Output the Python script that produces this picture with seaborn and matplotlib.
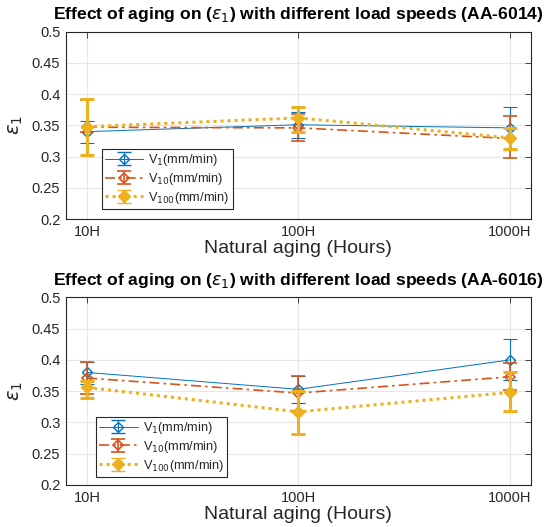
import numpy as np
import pandas as pd
import matplotlib
matplotlib.use("Agg")
import matplotlib.pyplot as plt
import seaborn as sns

sns.set_theme(style="whitegrid")
plt.rcParams['font.family'] = ['Liberation Sans', 'DejaVu Sans']
plt.rcParams['mathtext.fontset'] = 'dejavusans'

categories = ["10H", "100H", "1000H"]
series_names = ["V$_{1}$(mm/min)", "V$_{10}$(mm/min)", "V$_{100}$(mm/min)"]

# Panel 1 (AA-6014)
p1_mean = {
    "V1": [0.340, 0.351, 0.346],
    "V10": [0.347, 0.346, 0.329],
    "V100": [0.348, 0.362, 0.330],
}
p1_low = {
    "V1": [0.322, 0.330, 0.311],
    "V10": [0.340, 0.325, 0.298],
    "V100": [0.303, 0.340, 0.312],
}
p1_high = {
    "V1": [0.357, 0.372, 0.379],
    "V10": [0.390, 0.368, 0.365],
    "V100": [0.392, 0.380, 0.345],
}
# Panel 2 (AA-6016)
p2_mean = {
    "V1": [0.380, 0.353, 0.400],
    "V10": [0.371, 0.347, 0.373],
    "V100": [0.356, 0.317, 0.348],
}
p2_low = {
    "V1": [0.362, 0.331, 0.368],
    "V10": [0.346, 0.318, 0.352],
    "V100": [0.339, 0.282, 0.318],
}
p2_high = {
    "V1": [0.396, 0.374, 0.433],
    "V10": [0.397, 0.375, 0.395],
    "V100": [0.366, 0.350, 0.380],
}
titles = [r"Effect of aging on ($\epsilon_1$) with different load speeds (AA-6014)",
          r"Effect of aging on ($\epsilon_1$) with different load speeds (AA-6016)"]

keys = ["V1", "V10", "V100"]
colors = {"V1": "#0072BD", "V10": "#D95319", "V100": "#EDB120"}
styles = {
    "V1": dict(ls="-", lw=0.7, mfc="none", ms=5, mew=1.0, elw=0.8, cs=5),
    "V10": dict(ls=(0, (6, 2.5, 1.5, 2.5)), lw=1.2, mfc="none", ms=5, mew=1.2, elw=1.2, cs=5),
    "V100": dict(ls=(0, (1, 1.3)), lw=2.2, mfc=None, ms=6.5, mew=1.0, elw=2.2, cs=5),
}

fig = plt.figure(figsize=(5.54, 5.27), dpi=100)
ax1 = fig.add_axes([0.119, 0.5844, 0.839, 0.3554])
ax2 = fig.add_axes([0.119, 0.0797, 0.839, 0.356])

panels = [(ax1, p1_mean, p1_low, p1_high), (ax2, p2_mean, p2_low, p2_high)]
grid_c = "#e6e6e6"
leg_anchor = [(0.077, 0.053), (0.065, 0.043)]
for i, (ax, mean, low, high) in enumerate(panels):
    ax.set_facecolor("white")
    xpos = np.arange(len(categories))
    for k, name in zip(keys, series_names):
        st = styles[k]
        c = colors[k]
        df = pd.DataFrame({"x": xpos, "y": mean[k]})
        sns.lineplot(data=df, x="x", y="y", ax=ax, color=c, linestyle=st["ls"],
                     linewidth=st["lw"], marker="D", markersize=st["ms"],
                     markerfacecolor=(st["mfc"] if st["mfc"] is not None else c),
                     markeredgecolor=c, markeredgewidth=st["mew"], legend=False, zorder=3)
        m = np.array(mean[k]); lo = np.array(low[k]); hi = np.array(high[k])
        ax.errorbar(xpos, m, yerr=[m - lo, hi - m], fmt="none", ecolor=c,
                    elinewidth=st["elw"], capsize=st["cs"], capthick=st["elw"], zorder=3)
        # legend proxy
        ax.errorbar([np.nan], [np.nan], yerr=[np.nan], color=c, linestyle=st["ls"],
                    linewidth=st["lw"], marker="D", markersize=st["ms"],
                    markerfacecolor=(st["mfc"] if st["mfc"] is not None else c),
                    markeredgecolor=c, markeredgewidth=st["mew"], elinewidth=st["elw"],
                    capsize=st["cs"], capthick=st["elw"], label=name)
    ax.set_xlim(-0.1, 2.1)
    ax.set_ylim(0.2, 0.5)
    ax.set_xticks(xpos)
    ax.set_xticklabels(categories)
    ax.set_yticks([0.2, 0.25, 0.3, 0.35, 0.4, 0.45, 0.5])
    ax.set_yticklabels(["0.2", "0.25", "0.3", "0.35", "0.4", "0.45", "0.5"])
    ax.grid(True, color=grid_c, linewidth=0.8)
    for s in ax.spines.values():
        s.set_visible(True)
        s.set_color("#262626")
        s.set_linewidth(0.8)
    ax.tick_params(axis="both", direction="in", length=4, width=0.6, colors="#262626",
                   labelsize=10.5, top=True, right=True, labelcolor="#262626", pad=4)
    ax.set_xlabel("Natural aging (Hours)", fontsize=14, color="#262626", labelpad=1)
    ax.set_ylabel(r"$\epsilon_1$", fontsize=14, color="#262626", labelpad=5)
    ax.set_title(titles[i], fontsize=12.6, fontweight="bold", color="black", pad=9)
    leg = ax.legend(loc="lower left", bbox_to_anchor=leg_anchor[i], borderaxespad=0,
                    fontsize=9.2, frameon=True, fancybox=False, framealpha=1,
                    edgecolor="#262626", handlelength=3.0, borderpad=0.25, labelspacing=0.22,
                    handletextpad=0.4)
    leg.get_frame().set_linewidth(0.8)

fig.savefig("out.png", dpi=100, facecolor="white")
